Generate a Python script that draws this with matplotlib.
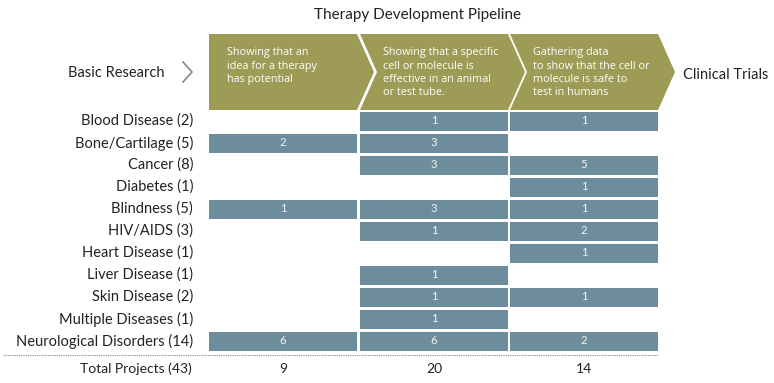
import matplotlib
matplotlib.use("Agg")
import matplotlib.pyplot as plt
from matplotlib.patches import Polygon

# data
categories = ["Blood Disease (2)", "Bone/Cartilage (5)", "Cancer (8)", "Diabetes (1)",
              "Blindness (5)", "HIV/AIDS (3)", "Heart Disease (1)", "Liver Disease (1)",
              "Skin Disease (2)", "Multiple Diseases (1)", "Neurological Disorders (14)"]
stage1 = [0, 2, 0, 0, 1, 0, 0, 0, 0, 0, 6]
stage2 = [1, 3, 3, 0, 3, 1, 0, 1, 1, 1, 6]
stage3 = [1, 0, 5, 1, 1, 2, 1, 0, 1, 0, 2]
stage_text = [["Showing that an", "idea for a therapy", "has potential"],
              ["Showing that a specific", "cell or molecule is", "effective in an animal",
               "or test tube."],
              ["Gathering data", "to show that the cell or", "molecule is safe to",
               "test in humans"]]
totals = [9, 20, 14]
total_label = "Total Projects (43)"

OLIVE = "#9d9b55"
BLUE = "#6e8d9c"
FONT = "Lato"

fig = plt.figure(figsize=(7.74, 3.83), dpi=100)
ax = fig.add_axes([0, 0, 1, 1])
ax.set_xlim(0, 774)
ax.set_ylim(383, 0)
ax.axis("off")

ax.text(418, 15, "Therapy Development Pipeline", ha="center", va="center",
        fontsize=11, family=FONT, color="#222222")

# chevrons
col_left = [209, 360, 510]
col_w = 148
top, bot, tip = 34, 110, 17
for i, x0 in enumerate(col_left):
    x1 = x0 + col_w
    pts = [(x0, top), (x1, top), (x1 + tip, (top + bot) / 2), (x1, bot), (x0, bot)]
    if i > 0:
        pts.append((x0 + tip, (top + bot) / 2))
    ax.add_patch(Polygon(pts, closed=True, facecolor=OLIVE, edgecolor="none"))
    tx = x0 + (18 if i == 0 else 23)
    for k, line in enumerate(stage_text[i]):
        ax.text(tx, 55.5 + 13.3 * k, line, ha="left", va="baseline",
                fontsize=7.8, family="Open Sans", color="white")

ax.text(165, 73, "Basic Research", ha="right", va="center", fontsize=10.5,
        family=FONT, color="#222222")
ax.plot([183, 192, 183], [62, 72, 82], color="#888888", lw=1.2)
ax.text(683, 75, "Clinical Trials", ha="left", va="center", fontsize=10.5,
        family=FONT, color="#222222")

# bars
row_y = [121 + 22 * i for i in range(len(categories))]
for x0, vals in zip(col_left, [stage1, stage2, stage3]):
    ys = [y for y, v in zip(row_y, vals) if v > 0]
    vs = [v for v in vals if v > 0]
    ax.barh(ys, col_w, height=19, left=x0, color=BLUE)
    for y, v in zip(ys, vs):
        ax.text(x0 + col_w / 2, y, str(v), ha="center", va="center",
                fontsize=8.2, family=FONT, color="#f4f4f4")

for y, c in zip(row_y, categories):
    ax.text(193, y, c, ha="right", va="center", fontsize=10.5, family=FONT,
            color="#222222")

ax.plot([3, 658], [355, 355], color="#888888", lw=0.8, ls=(0, (1, 1)))
ax.text(192, 369, total_label, ha="right", va="center", fontsize=10,
        family=FONT, color="#222222")
for x0, t in zip(col_left, totals):
    ax.text(x0 + col_w / 2, 369, str(t), ha="center", va="center",
            fontsize=10, family=FONT, color="#222222")

fig.savefig("out.png", dpi=100)
